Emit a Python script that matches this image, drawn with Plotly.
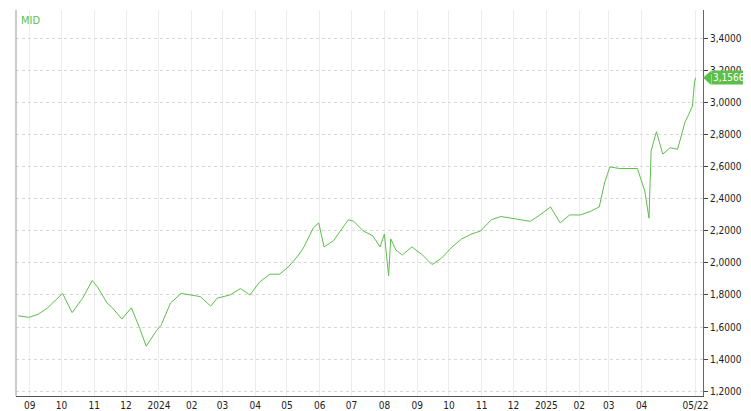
import plotly.graph_objects as go

dates = [
    "2023-08-21", "2023-08-31", "2023-09-09", "2023-09-18", "2023-10-02", "2023-10-11",
    "2023-10-21", "2023-10-30", "2023-11-04", "2023-11-13", "2023-11-18", "2023-11-27",
    "2023-12-06", "2023-12-14", "2023-12-20", "2023-12-30", "2024-01-03", "2024-01-12",
    "2024-01-22", "2024-01-31", "2024-02-09", "2024-02-19", "2024-02-25", "2024-03-08",
    "2024-03-18", "2024-03-27", "2024-04-05", "2024-04-15", "2024-04-24", "2024-05-03",
    "2024-05-12", "2024-05-17", "2024-05-26", "2024-05-31", "2024-06-05", "2024-06-14",
    "2024-06-23", "2024-06-28", "2024-07-03", "2024-07-12", "2024-07-21", "2024-07-28",
    "2024-08-01", "2024-08-05", "2024-08-07", "2024-08-12", "2024-08-18", "2024-08-27",
    "2024-09-06", "2024-09-15", "2024-09-24", "2024-10-04", "2024-10-13", "2024-10-22",
    "2024-10-31", "2024-11-10", "2024-11-19", "2024-11-28", "2024-12-08", "2024-12-17",
    "2024-12-26", "2025-01-05", "2025-01-14", "2025-01-23", "2025-02-02", "2025-02-11",
    "2025-02-20", "2025-02-25", "2025-03-02", "2025-03-11", "2025-03-20", "2025-03-28",
    "2025-04-04", "2025-04-08", "2025-04-10", "2025-04-15", "2025-04-21", "2025-04-28",
    "2025-05-05", "2025-05-12", "2025-05-15", "2025-05-19", "2025-05-21", "2025-05-22",
]
mid = [
    1.67, 1.66, 1.68, 1.72, 1.81, 1.69,
    1.78, 1.89, 1.85, 1.75, 1.72, 1.65,
    1.72, 1.59, 1.48, 1.58, 1.61, 1.75,
    1.81, 1.80, 1.79, 1.73, 1.78, 1.80,
    1.84, 1.80, 1.88, 1.93, 1.93, 1.98,
    2.05, 2.10, 2.22, 2.25, 2.10, 2.14,
    2.22, 2.27, 2.26, 2.20, 2.17, 2.10,
    2.18, 1.92, 2.15, 2.08, 2.05, 2.10,
    2.05, 1.99, 2.03, 2.10, 2.15, 2.18,
    2.20, 2.27, 2.29, 2.28, 2.27, 2.26,
    2.30, 2.35, 2.25, 2.30, 2.30, 2.32,
    2.35, 2.50, 2.60, 2.59, 2.59, 2.59,
    2.45, 2.28, 2.70, 2.82, 2.68, 2.72,
    2.71, 2.88, 2.92, 2.98, 3.13, 3.1566,
]
tick_vals = [
    "2023-09-01", "2023-10-01", "2023-11-01", "2023-12-01", "2024-01-01", "2024-02-01",
    "2024-03-01", "2024-04-01", "2024-05-01", "2024-06-01", "2024-07-01", "2024-08-01",
    "2024-09-01", "2024-10-01", "2024-11-01", "2024-12-01", "2025-01-01", "2025-02-01",
    "2025-03-01", "2025-04-01", "2025-05-22",
]
tick_text = [
    "09", "10", "11", "12", "2024", "02", "03", "04", "05", "06", "07", "08",
    "09", "10", "11", "12", "2025", "02", "03", "04", "05/22",
]

green = "#5cbf4a"
last = mid[-1]

fig = go.Figure()
fig.add_trace(go.Scatter(x=dates, y=mid, mode="lines",
                         line=dict(color=green, width=1), hoverinfo="skip"))

fig.update_layout(
    width=751, height=411,
    margin=dict(l=8, r=56, t=2, b=23),
    paper_bgcolor="white", plot_bgcolor="white",
    separators=",.",
    showlegend=False,
    font=dict(family="DejaVu Sans Condensed, DejaVu Sans", size=10, color="#222"),
    xaxis=dict(
        range=["2023-08-19", "2025-05-29"],
        tickvals=tick_vals, ticktext=tick_text,
        showgrid=True, gridcolor="#ececec", ticks="", ticklabelstandoff=0,
        showline=True, linecolor="#555", mirror=False,
        zeroline=False,
    ),
    yaxis=dict(
        side="right", range=[1.169, 3.58], dtick=0.2, tickformat=".4f",
        showgrid=True, gridcolor="#d8d8d8", griddash="dot",
        ticks="outside", ticklen=4, tickcolor="#444",
        showline=True, linecolor="#666", zeroline=False,
    ),
    annotations=[
        dict(text="MID", x=0.005, y=0.995, xref="paper", yref="paper",
             xanchor="left", yanchor="top", showarrow=False,
             font=dict(color=green, size=11)),
        dict(text=f"{last:.4f}".replace(".", ","), x=1.011, y=last, xref="paper", yref="y",
             xanchor="left", yanchor="middle", showarrow=False,
             bgcolor=green, font=dict(color="white", size=10), borderpad=1),
    ],
    shapes=[
        dict(type="path", xref="paper", yref="y",
             path=f"M 1.0,{last} L 1.012,{last + 0.045} L 1.012,{last - 0.045} Z",
             fillcolor=green, line=dict(width=0)),
        dict(type="line", xref="paper", yref="paper", x0=0, x1=0, y0=0, y1=1,
             line=dict(color="#999", width=1)),
    ],
)

fig.write_html("out.html")
